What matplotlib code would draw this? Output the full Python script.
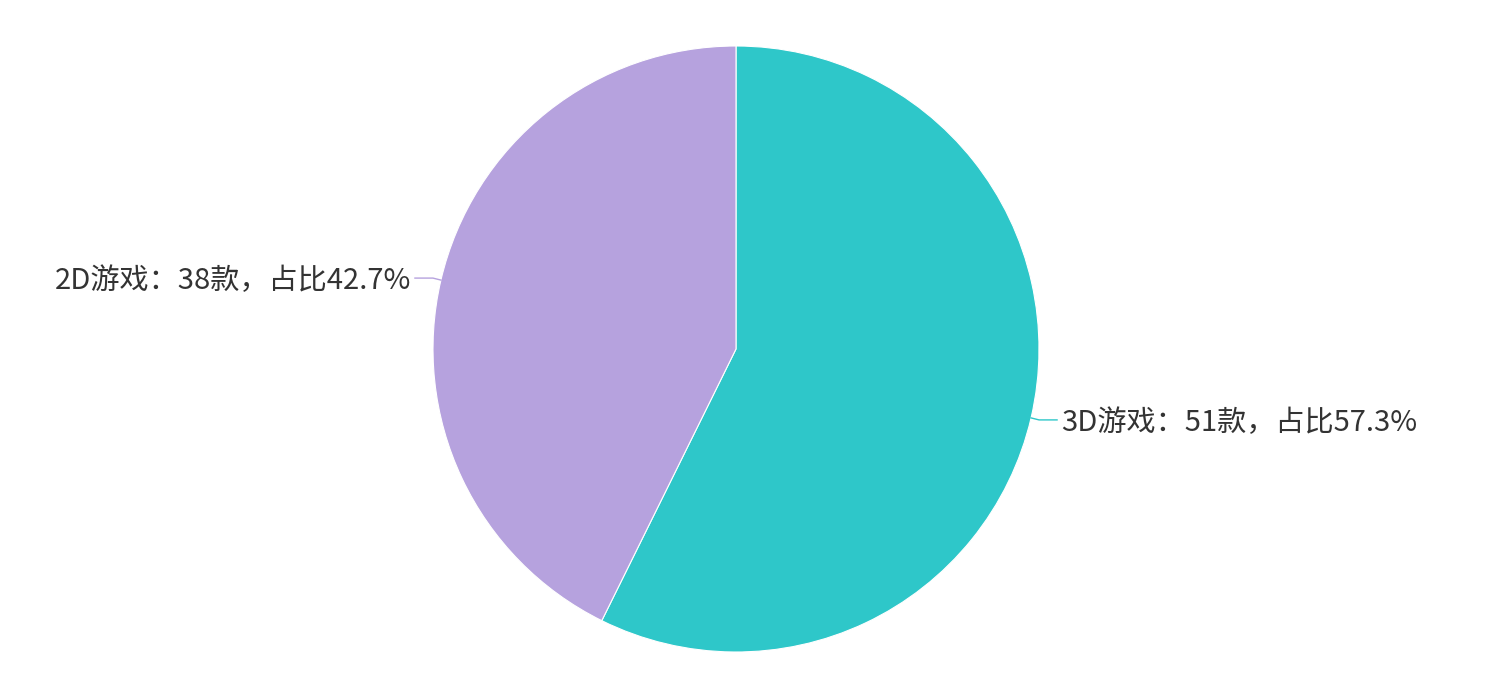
import numpy as np
import matplotlib
matplotlib.use("Agg")
import matplotlib.pyplot as plt

plt.rcParams['font.family'] = ['Noto Sans CJK SC', 'DejaVu Sans']

# data
categories = ["3D游戏", "2D游戏"]
counts = [51, 38]
colors = ["#2EC7C9", "#B6A2DE"]

W, H = 1489, 688
fig = plt.figure(figsize=(W / 100, H / 100), dpi=100)
ax = fig.add_axes([0, 0, 1, 1])

cx, cy, r = 736, H - 349, 303
wedges, _ = ax.pie(counts, colors=colors, startangle=90, counterclock=False,
                   radius=r, center=(cx, cy), frame=True,
                   wedgeprops=dict(linewidth=0.8, edgecolor="white"))
ax.set_xlim(0, W)
ax.set_ylim(0, H)
ax.set_aspect('equal')
ax.axis('off')

total = sum(counts)
for w, name, n, col in zip(wedges, categories, counts, colors):
    ang = np.deg2rad((w.theta1 + w.theta2) / 2)
    ex, ey = cx + r * np.cos(ang), cy + r * np.sin(ang)
    side = 1 if np.cos(ang) >= 0 else -1
    bx, by = ex + side * 8, ey + np.sign(np.sin(ang)) * 2
    lx = bx + side * 18
    ax.plot([ex, bx, lx], [ey, by, by], color=col, lw=1)
    txt = f"{name}：{n}款，占比{n / total * 100:.1f}%"
    ax.text(lx + side * 4, by - 3, txt, ha='left' if side > 0 else 'right',
            va='center', fontsize=21, color="#333333")

fig.savefig("out.png", dpi=100, facecolor="white")
